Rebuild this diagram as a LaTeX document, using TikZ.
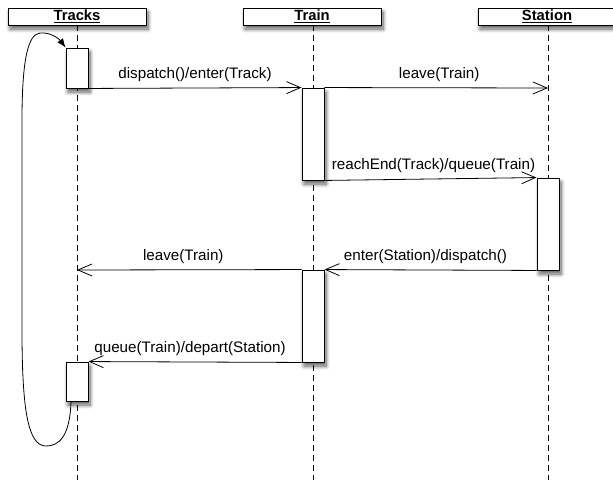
\documentclass[tikz,border=0pt]{standalone}
\usepackage{fontspec}
\setmainfont{Liberation Sans}
\usetikzlibrary{arrows.meta,shadows.blur}
\begin{document}
\begin{tikzpicture}[x=1pt,y=-1pt,
  head/.style={draw,line width=0.9pt,fill=white,minimum width=138pt,minimum height=17pt,inner sep=0pt,
    font=\fontsize{14.8}{15}\selectfont\bfseries,
    blur shadow={shadow xshift=2pt,shadow yshift=-4pt,shadow blur steps=8,shadow blur radius=4pt,shadow opacity=65}},
  act/.style={draw,line width=0.9pt,fill=white,minimum width=22pt,inner sep=0pt,
    blur shadow={shadow xshift=2pt,shadow yshift=-4pt,shadow blur steps=8,shadow blur radius=4pt,shadow opacity=65}},
  life/.style={line width=0.8pt,dash pattern=on 6pt off 4pt},
  msg/.style={line width=0.8pt,-{Straight Barb[length=14pt,width=12pt,line width=0.8pt]}},
  lbl/.style={font=\fontsize{15.2}{16}\selectfont,inner sep=0pt,above=6pt},
  loopline/.style={line width=0.8pt,-{Latex[length=9pt,width=7pt]}}]
\useasboundingbox (0,0) rectangle (613,480);
% headers
\node[head] (h1) at (77,16.5) {\underline{Tracks}};
\node[head] (h2) at (312,16.5) {\underline{Train}};
\node[head] (h3) at (547,16.5) {\underline{Station}};
% lifeline ends
\coordinate (e1) at (77,480);
\coordinate (e2) at (313,480);
\coordinate (e3) at (548,480);
\draw[life] (77,25) -- (e1);
\draw[life] (313,25) -- (e2);
\draw[life] (548,25) -- (e3);
% activations
\node[act,minimum height=40pt] (k1) at (77,68) {};
\node[act,minimum height=92pt] (r1) at (313,134) {};
\node[act,minimum height=92pt] (s1) at (548,224) {};
\node[act,minimum height=92pt] (r2) at (313,316) {};
\node[act,minimum height=39pt] (k2) at (77,381.5) {};
% message targets on lifelines
\coordinate (m2) at (548,88);
\coordinate (m5) at (77,270);
% messages
\draw[msg] (k1.south east) -- node[lbl] {dispatch()/enter(Track)} (r1.north west);
\draw[msg] (r1.north east) -- node[lbl,xshift=3pt] {leave(Train)} (m2);
\draw[msg] (r1.south east) -- node[lbl,xshift=3pt] {reachEnd(Track)/queue(Train)} (s1.north west);
\draw[msg] (s1.south west) -- node[lbl,xshift=-5pt] {enter(Station)/dispatch()} (r2.north east);
\draw[msg] (r2.north west) -- node[lbl,xshift=-6pt] {leave(Train)} (m5);
\draw[msg] (r2.south west) -- node[lbl,xshift=-5pt] {queue(Train)/depart(Station)} (k2.north east);
% self loop
\coordinate (ls) at (71,401);
\draw[loopline] (ls) .. controls (70,438) and (58,446) .. (46,446)
  .. controls (28,446) and (22,410) .. (22,330)
  -- (22,120)
  .. controls (22,60) and (28,34) .. (40,33)
  .. controls (52,32) and (60,40) .. (k1.north west);
\end{tikzpicture}
\end{document}
